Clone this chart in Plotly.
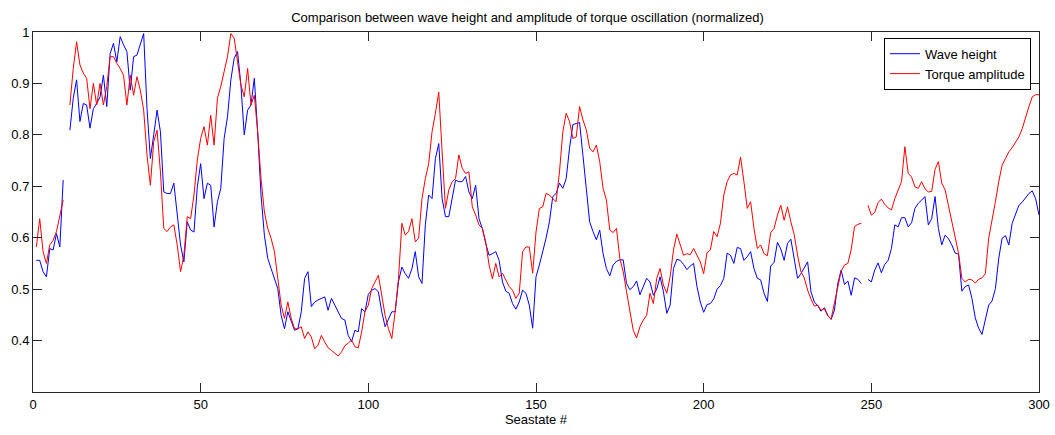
import plotly.graph_objects as go

# Sea state index (1..300); None marks missing sea states
seastate = list(range(1, 301))

wave_height = [
    0.556, 0.556, 0.534, 0.524, 0.579, 0.576, 0.608, 0.582, 0.712, None,
    0.809, 0.871, 0.907, 0.826, 0.861, 0.858, 0.813, 0.851, 0.861, 0.874,
    0.916, 0.855, 0.958, 0.978, 0.942, 0.991, 0.975, 0.962, 0.887, 0.952,
    0.955, 0.978, 0.997, 0.851, 0.754, 0.800, 0.848, 0.806, 0.689, 0.686,
    0.686, 0.706, 0.650, 0.586, 0.553, 0.631, 0.615, 0.611, 0.699, 0.744,
    0.676, 0.706, 0.702, 0.621, 0.670, 0.696, 0.793, 0.835, 0.907, 0.949,
    0.962, 0.897, 0.800, 0.848, 0.858, 0.910, 0.806, 0.683, 0.605, 0.560,
    0.540, 0.521, 0.501, 0.449, 0.423, 0.456, 0.436, 0.420, 0.423, 0.456,
    0.521, 0.534, 0.466, 0.475, 0.479, 0.482, 0.485, 0.459, 0.482, 0.469,
    0.456, 0.443, 0.440, 0.410, 0.398, 0.420, 0.417, 0.462, 0.456, 0.490,
    0.498, 0.501, 0.495, 0.456, 0.427, 0.443, 0.456, 0.456, 0.515, 0.543,
    0.530, 0.521, 0.540, 0.573, 0.524, 0.511, 0.625, 0.683, 0.676, 0.754,
    0.783, 0.676, 0.641, 0.641, 0.676, 0.712, 0.709, 0.709, 0.719, 0.689,
    0.676, 0.702, 0.637, 0.618, 0.589, 0.566, 0.569, 0.573, 0.556, 0.514,
    0.496, 0.492, 0.472, 0.461, 0.475, 0.498, 0.492, 0.469, 0.424, 0.524,
    0.547, 0.573, 0.599, 0.631, 0.680, 0.686, 0.706, 0.696, 0.715, 0.774,
    0.820, 0.822, 0.824, 0.760, 0.688, 0.631, 0.612, 0.596, 0.615, 0.569,
    0.540, 0.526, 0.547, 0.554, 0.557, 0.557, 0.511, 0.499, 0.505, 0.516,
    0.489, 0.505, 0.521, 0.514, 0.488, 0.500, 0.524, 0.495, 0.453, 0.469,
    0.540, 0.558, 0.556, 0.548, 0.538, 0.545, 0.550, 0.505, 0.475, 0.455,
    0.470, 0.472, 0.481, 0.500, 0.507, 0.521, 0.570, 0.566, 0.550, 0.581,
    0.579, 0.556, 0.563, 0.573, 0.540, 0.521, 0.518, 0.492, 0.476, 0.545,
    0.552, 0.591, 0.578, 0.556, 0.589, 0.597, 0.559, 0.521, 0.530, 0.543,
    0.553, 0.495, 0.475, 0.468, 0.457, 0.464, 0.449, 0.441, 0.459, 0.511,
    0.537, 0.509, 0.516, 0.488, 0.522, 0.519, 0.511, None, 0.519, 0.514,
    0.537, 0.551, 0.532, 0.548, 0.556, 0.579, 0.625, 0.621, 0.639, 0.639,
    0.621, 0.629, 0.657, 0.667, 0.673, 0.680, 0.625, 0.637, 0.680, 0.618,
    0.586, 0.605, 0.598, 0.586, 0.570, 0.568, 0.496, 0.505, 0.508, 0.482,
    0.444, 0.424, 0.412, 0.443, 0.469, 0.477, 0.501, 0.560, 0.599, 0.604,
    0.586, 0.628, 0.647, 0.663, 0.669, 0.678, 0.686, 0.691, 0.676, 0.644,
]

torque_amplitude = [
    0.582, 0.637, 0.573, 0.550, 0.586, 0.595, 0.612, 0.641, 0.673, None,
    0.858, 0.929, 0.981, 0.936, 0.920, 0.910, 0.851, 0.900, 0.858, 0.900,
    0.858, 0.894, 0.952, 0.952, 0.939, 0.929, 0.916, 0.858, 0.916, 0.877,
    0.913, 0.887, 0.848, 0.761, 0.702, 0.787, 0.809, 0.728, 0.618, 0.612,
    0.621, 0.625, 0.586, 0.534, 0.566, 0.641, 0.637, 0.683, 0.751, 0.793,
    0.816, 0.780, 0.838, 0.780, 0.871, 0.894, 0.923, 0.952, 0.997, 0.988,
    0.942, 0.897, 0.874, 0.929, 0.858, 0.877, 0.806, 0.715, 0.650, 0.618,
    0.599, 0.573, 0.521, 0.469, 0.443, 0.475, 0.443, 0.423, 0.423, 0.427,
    0.404, 0.417, 0.407, 0.384, 0.391, 0.410, 0.397, 0.386, 0.381, 0.375,
    0.370, 0.378, 0.390, 0.395, 0.401, 0.388, 0.386, 0.417, 0.456, 0.469,
    0.501, 0.514, 0.527, 0.488, 0.449, 0.423, 0.404, 0.456, 0.521, 0.628,
    0.605, 0.612, 0.637, 0.592, 0.599, 0.676, 0.715, 0.744, 0.806, 0.842,
    0.883, 0.767, 0.657, 0.693, 0.709, 0.715, 0.761, 0.735, 0.725, 0.728,
    0.660, 0.644, 0.625, 0.618, 0.592, 0.547, 0.520, 0.550, 0.524, 0.531,
    0.518, 0.505, 0.498, 0.482, 0.492, 0.573, 0.582, 0.582, 0.531, 0.611,
    0.657, 0.660, 0.686, 0.683, 0.676, 0.670, 0.728, 0.806, 0.842, 0.826,
    0.793, 0.796, 0.855, 0.829, 0.810, 0.774, 0.767, 0.780, 0.748, 0.696,
    0.673, 0.615, 0.610, 0.618, 0.560, 0.534, 0.495, 0.456, 0.420, 0.405,
    0.427, 0.440, 0.449, 0.492, 0.472, 0.521, 0.540, 0.508, 0.492, 0.524,
    0.576, 0.607, 0.584, 0.566, 0.569, 0.567, 0.579, 0.567, 0.553, 0.530,
    0.571, 0.576, 0.612, 0.602, 0.628, 0.683, 0.709, 0.722, 0.725, 0.722,
    0.757, 0.709, 0.657, 0.670, 0.618, 0.579, 0.586, 0.569, 0.565, 0.610,
    0.618, 0.644, 0.663, 0.634, 0.660, 0.631, 0.606, 0.566, 0.534, 0.522,
    0.498, 0.481, 0.467, 0.469, 0.459, 0.462, 0.448, 0.442, 0.472, 0.508,
    0.535, 0.547, 0.550, 0.577, 0.622, 0.626, 0.628, None, 0.663, 0.644,
    0.649, 0.668, 0.675, 0.665, 0.658, 0.654, 0.676, 0.691, 0.709, 0.777,
    0.725, 0.718, 0.699, 0.696, 0.709, 0.695, 0.689, 0.690, 0.733, 0.748,
    0.706, 0.693, 0.663, 0.635, 0.605, 0.570, 0.521, 0.514, 0.519, 0.518,
    0.512, 0.519, 0.522, 0.530, 0.599, 0.631, 0.670, 0.709, 0.741, 0.754,
    0.767, 0.775, 0.787, 0.796, 0.812, 0.835, 0.855, 0.874, 0.878, 0.878,
]

x_ticks = [0, 50, 100, 150, 200, 250, 300]
y_ticks = [0.4, 0.5, 0.6, 0.7, 0.8, 0.9, 1.0]
y_tick_text = ["0.4", "0.5", "0.6", "0.7", "0.8", "0.9", "1"]

FONT = "Liberation Sans, Arial, Helvetica, sans-serif"

fig = go.Figure()
fig.add_trace(go.Scatter(
    x=seastate, y=wave_height, mode="lines", name="Wave height",
    line=dict(color="#0000FF", width=1), connectgaps=False,
))
fig.add_trace(go.Scatter(
    x=seastate, y=torque_amplitude, mode="lines", name="Torque amplitude",
    line=dict(color="#FF0000", width=1), connectgaps=False,
))

axis_common = dict(
    showline=True, linecolor="#262626", linewidth=1, mirror="ticks",
    ticks="inside", ticklen=9, tickcolor="#262626", tickwidth=1,
    showgrid=False, zeroline=False, automargin=False,
    tickfont=dict(family=FONT, size=13, color="black"),
)

fig.update_layout(
    width=1055, height=435,
    autosize=False,
    margin=dict(l=33, r=16, t=32, b=43, autoexpand=False),
    paper_bgcolor="white", plot_bgcolor="white",
    font=dict(family=FONT, size=13, color="black"),
    title=dict(
        text="Comparison between wave height and amplitude of torque oscillation (normalized)",
        x=0.5, xanchor="center", y=1 - 17 / 435, yanchor="middle",
        yref="container", font=dict(family=FONT, size=13, color="black"),
    ),
    xaxis=dict(
        range=[0, 300], tickvals=x_ticks,
        title=dict(text="Seastate #", standoff=4,
                   font=dict(family=FONT, size=13, color="black")),
        **axis_common,
    ),
    yaxis=dict(
        range=[0.3, 1.0], tickvals=y_ticks, ticktext=y_tick_text,
        **axis_common,
    ),
    legend=dict(
        x=0.992, y=0.984, xanchor="right", yanchor="top",
        bgcolor="white", bordercolor="black", borderwidth=1,
        font=dict(family=FONT, size=13, color="black"),
        tracegroupgap=0,
    ),
    showlegend=True,
)

fig.write_html("out.html")
